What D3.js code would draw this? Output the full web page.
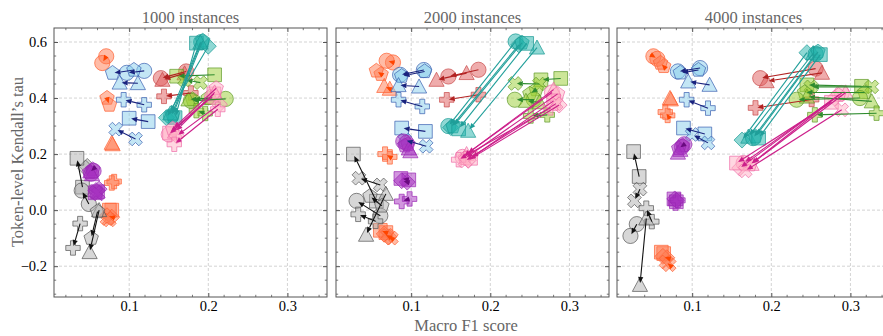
<!DOCTYPE html>
<html>
<head>
<meta charset="utf-8">
<script src="https://cdn.jsdelivr.net/npm/d3@7"></script>
<style>
  body { margin: 0; background: #fff; }
  svg { display: block; }
  text { font-family: "Liberation Serif", "DejaVu Serif", serif; }
</style>
</head>
<body>
<svg id="chart" width="883" height="336"></svg>
<script>
// panel titles and axis ticks
const panelTitles = ["1000 instances", "2000 instances", "4000 instances"];
const xTicks = [0.1, 0.2, 0.3];
const yTicks = [-0.2, 0.0, 0.2, 0.4, 0.6];

// each row: [group, marker, f1 before, tau before, f1 after, tau after]
const moves1000 = [
  ["orange", "o", 0.071, 0.549, 0.066, 0.525],
  ["orange", "p", 0.072, 0.400, 0.075, 0.375],
  ["orange", "^", 0.079, 0.235, 0.078, 0.240],
  ["orange", "P", 0.081, 0.102, 0.078, 0.097],
  ["orange", "s", 0.078, 0.000, 0.075, 0.000],
  ["orange", "D", 0.078, -0.025, 0.072, -0.020],
  ["orange", "X", 0.075, -0.035, 0.072, -0.030],
  ["blue", "o", 0.119, 0.497, 0.097, 0.490],
  ["blue", "p", 0.106, 0.500, 0.079, 0.489],
  ["blue", "^", 0.111, 0.453, 0.088, 0.455],
  ["blue", "P", 0.119, 0.376, 0.093, 0.394],
  ["blue", "s", 0.124, 0.316, 0.100, 0.328],
  ["blue", "X", 0.108, 0.254, 0.083, 0.289],
  ["red", "o", 0.172, 0.495, 0.140, 0.471],
  ["red", "^", 0.170, 0.488, 0.142, 0.465],
  ["red", "P", 0.178, 0.418, 0.144, 0.406],
  ["green", "s", 0.208, 0.483, 0.160, 0.478],
  ["green", "X", 0.190, 0.455, 0.170, 0.465],
  ["green", "p", 0.200, 0.400, 0.180, 0.395],
  ["green", "o", 0.222, 0.397, 0.178, 0.390],
  ["green", "^", 0.205, 0.400, 0.175, 0.395],
  ["green", "P", 0.196, 0.345, 0.185, 0.355],
  ["teal", "o", 0.191, 0.600, 0.153, 0.335],
  ["teal", "s", 0.185, 0.596, 0.158, 0.330],
  ["teal", "D", 0.200, 0.585, 0.147, 0.330],
  ["teal", "p", 0.193, 0.604, 0.155, 0.340],
  ["teal", "^", 0.190, 0.598, 0.152, 0.345],
  ["pink", "o", 0.205, 0.405, 0.150, 0.270],
  ["pink", "s", 0.207, 0.415, 0.151, 0.275],
  ["pink", "p", 0.210, 0.435, 0.155, 0.290],
  ["pink", "^", 0.208, 0.420, 0.158, 0.280],
  ["pink", "D", 0.214, 0.378, 0.160, 0.265],
  ["pink", "P", 0.212, 0.360, 0.157, 0.235],
  ["gray", "D", 0.047, 0.156, 0.045, 0.150],
  ["gray", "s", 0.041, 0.082, 0.034, 0.185],
  ["gray", "o", 0.049, 0.022, 0.040, 0.070],
  ["gray", "^", 0.062, 0.000, 0.050, -0.150],
  ["gray", "p", 0.060, -0.005, 0.052, -0.100],
  ["gray", "P", 0.038, -0.048, 0.029, -0.135],
  ["purple", "p", 0.054, 0.145, 0.050, 0.135],
  ["purple", "o", 0.055, 0.140, 0.052, 0.130],
  ["purple", "^", 0.053, 0.128, 0.051, 0.138],
  ["purple", "s", 0.060, 0.066, 0.057, 0.062],
  ["purple", "D", 0.062, 0.075, 0.058, 0.070],
  ["purple", "X", 0.061, 0.058, 0.058, 0.064]
];

const moves2000 = [
  ["orange", "o", 0.077, 0.527, 0.069, 0.533],
  ["orange", "p", 0.062, 0.485, 0.056, 0.497],
  ["orange", "^", 0.073, 0.433, 0.066, 0.443],
  ["orange", "P", 0.073, 0.190, 0.067, 0.200],
  ["orange", "s", 0.068, -0.080, 0.061, -0.072],
  ["orange", "D", 0.072, -0.095, 0.066, -0.085],
  ["orange", "X", 0.075, -0.100, 0.070, -0.090],
  ["blue", "o", 0.116, 0.500, 0.086, 0.483],
  ["blue", "p", 0.117, 0.495, 0.088, 0.478],
  ["blue", "^", 0.110, 0.441, 0.084, 0.446],
  ["blue", "P", 0.114, 0.370, 0.084, 0.394],
  ["blue", "s", 0.118, 0.281, 0.088, 0.293],
  ["blue", "X", 0.119, 0.228, 0.092, 0.250],
  ["red", "o", 0.185, 0.501, 0.147, 0.477],
  ["red", "^", 0.170, 0.489, 0.132, 0.465],
  ["red", "P", 0.185, 0.412, 0.145, 0.394],
  ["green", "s", 0.289, 0.470, 0.264, 0.465],
  ["green", "X", 0.262, 0.450, 0.231, 0.452],
  ["green", "p", 0.258, 0.430, 0.250, 0.415],
  ["green", "o", 0.255, 0.395, 0.231, 0.394],
  ["green", "^", 0.262, 0.385, 0.245, 0.390],
  ["green", "P", 0.272, 0.340, 0.251, 0.336],
  ["teal", "o", 0.232, 0.602, 0.147, 0.300],
  ["teal", "D", 0.236, 0.590, 0.150, 0.295],
  ["teal", "p", 0.240, 0.597, 0.153, 0.298],
  ["teal", "s", 0.246, 0.595, 0.160, 0.290],
  ["teal", "^", 0.259, 0.580, 0.172, 0.283],
  ["pink", "o", 0.278, 0.420, 0.165, 0.190],
  ["pink", "^", 0.280, 0.430, 0.170, 0.200],
  ["pink", "p", 0.285, 0.415, 0.168, 0.185],
  ["pink", "s", 0.280, 0.390, 0.175, 0.185],
  ["pink", "D", 0.287, 0.375, 0.172, 0.178],
  ["pink", "P", 0.276, 0.365, 0.160, 0.180],
  ["pink", "X", 0.283, 0.380, 0.168, 0.175],
  ["gray", "s", 0.056, 0.032, 0.027, 0.200],
  ["gray", "X", 0.061, 0.090, 0.034, 0.114],
  ["gray", "^", 0.068, 0.058, 0.043, -0.088],
  ["gray", "o", 0.061, -0.020, 0.031, 0.033],
  ["gray", "P", 0.055, -0.040, 0.033, -0.015],
  ["gray", "p", 0.063, 0.015, 0.048, 0.050],
  ["purple", "o", 0.094, 0.240, 0.090, 0.245],
  ["purple", "p", 0.096, 0.235, 0.092, 0.230],
  ["purple", "^", 0.099, 0.210, 0.097, 0.220],
  ["purple", "s", 0.097, 0.108, 0.087, 0.113],
  ["purple", "D", 0.095, 0.100, 0.088, 0.105],
  ["purple", "P", 0.098, 0.040, 0.088, 0.031]
];

const moves4000 = [
  ["orange", "o", 0.051, 0.549, 0.056, 0.540],
  ["orange", "p", 0.064, 0.513, 0.060, 0.525],
  ["orange", "^", 0.073, 0.395, 0.072, 0.400],
  ["orange", "P", 0.069, 0.338, 0.066, 0.350],
  ["orange", "s", 0.064, -0.155, 0.061, -0.150],
  ["orange", "D", 0.068, -0.170, 0.063, -0.165],
  ["orange", "X", 0.071, -0.195, 0.067, -0.185],
  ["blue", "o", 0.110, 0.507, 0.082, 0.495],
  ["blue", "p", 0.108, 0.500, 0.085, 0.490],
  ["blue", "^", 0.122, 0.447, 0.095, 0.459],
  ["blue", "P", 0.120, 0.364, 0.093, 0.394],
  ["blue", "s", 0.116, 0.272, 0.089, 0.293],
  ["blue", "X", 0.120, 0.240, 0.100, 0.270],
  ["red", "o", 0.256, 0.505, 0.186, 0.471],
  ["red", "^", 0.264, 0.490, 0.194, 0.460],
  ["red", "P", 0.251, 0.395, 0.180, 0.365],
  ["green", "s", 0.314, 0.442, 0.245, 0.447],
  ["green", "X", 0.327, 0.440, 0.250, 0.440],
  ["green", "p", 0.318, 0.420, 0.242, 0.420],
  ["green", "o", 0.312, 0.400, 0.232, 0.394],
  ["green", "^", 0.327, 0.388, 0.245, 0.405],
  ["green", "P", 0.333, 0.346, 0.255, 0.340],
  ["teal", "D", 0.245, 0.562, 0.163, 0.250],
  ["teal", "^", 0.253, 0.560, 0.171, 0.262],
  ["teal", "o", 0.256, 0.558, 0.177, 0.257],
  ["teal", "p", 0.259, 0.565, 0.180, 0.262],
  ["teal", "s", 0.262, 0.555, 0.184, 0.257],
  ["pink", "o", 0.289, 0.418, 0.165, 0.168],
  ["pink", "^", 0.294, 0.420, 0.175, 0.165],
  ["pink", "p", 0.285, 0.410, 0.173, 0.162],
  ["pink", "D", 0.280, 0.400, 0.160, 0.150],
  ["pink", "s", 0.276, 0.385, 0.156, 0.168],
  ["pink", "X", 0.289, 0.358, 0.167, 0.140],
  ["gray", "s", 0.033, 0.120, 0.026, 0.209],
  ["gray", "X", 0.034, 0.075, 0.027, 0.033],
  ["gray", "P", 0.049, -0.041, 0.042, 0.007],
  ["gray", "o", 0.030, -0.050, 0.022, -0.092],
  ["gray", "^", 0.042, -0.030, 0.034, -0.267],
  ["purple", "o", 0.090, 0.235, 0.087, 0.225],
  ["purple", "p", 0.088, 0.230, 0.083, 0.220],
  ["purple", "^", 0.082, 0.205, 0.085, 0.215],
  ["purple", "s", 0.077, 0.040, 0.080, 0.030],
  ["purple", "D", 0.080, 0.035, 0.078, 0.040],
  ["purple", "P", 0.079, 0.025, 0.082, 0.035]
];

const panelData = [moves1000, moves2000, moves4000];

// colours per group: marker fill, marker edge, arrow
const groupStyle = {
  orange: { fill: "#ff7a50", edge: "#ff6030", arrow: "#ff4500" },
  blue:   { fill: "#87ceeb", edge: "#3a5fb0", arrow: "#1a237e" },
  red:    { fill: "#e05a5a", edge: "#c84848", arrow: "#b22222" },
  teal:   { fill: "#20b2aa", edge: "#1a9a94", arrow: "#1f9e99" },
  green:  { fill: "#9acd32", edge: "#5f9a2a", arrow: "#2e8b2e" },
  pink:   { fill: "#ffb0c4", edge: "#f06ca8", arrow: "#cc1f8a" },
  gray:   { fill: "#b0b0b0", edge: "#555555", arrow: "#111111" },
  purple: { fill: "#a62fc0", edge: "#9a2ab4", arrow: "#6a0a80" }
};

const svg = d3.select("#chart");
const plotTop = 28, plotBottom = 297, panelW = 273;
const lefts = [54, 336, 617];

function shapePath(m, r) {
  const p = d3.path();
  if (m === "o") {
    p.arc(0, 0, r, 0, 2 * Math.PI);
  } else if (m === "s") {
    const h = r * 0.9;
    p.rect(-h, -h, 2 * h, 2 * h);
  } else if (m === "D") {
    const h = r * 1.05;
    p.moveTo(0, -h); p.lineTo(h, 0); p.lineTo(0, h); p.lineTo(-h, 0); p.closePath();
  } else if (m === "^") {
    p.moveTo(0, -r); p.lineTo(r, r * 0.85); p.lineTo(-r, r * 0.85); p.closePath();
  } else if (m === "p") {
    for (let i = 0; i < 5; i++) {
      const a = -Math.PI / 2 + i * 2 * Math.PI / 5;
      if (i === 0) p.moveTo(r * Math.cos(a), r * Math.sin(a));
      else p.lineTo(r * Math.cos(a), r * Math.sin(a));
    }
    p.closePath();
  } else {
    // plus, X is the same shape rotated
    const a = r * 0.95, b = r * 0.33;
    const pts = [[-b,-a],[b,-a],[b,-b],[a,-b],[a,b],[b,b],[b,a],[-b,a],[-b,b],[-a,b],[-a,-b],[-b,-b]];
    const rot = m === "X" ? Math.PI / 4 : 0;
    pts.forEach((q, i) => {
      const x = q[0] * Math.cos(rot) - q[1] * Math.sin(rot);
      const y = q[0] * Math.sin(rot) + q[1] * Math.cos(rot);
      if (i === 0) p.moveTo(x, y); else p.lineTo(x, y);
    });
    p.closePath();
  }
  return p.toString();
}

panelData.forEach((rows, pi) => {
  const left = lefts[pi];
  const x = d3.scaleLinear().domain([0.005, 0.35]).range([left, left + panelW]);
  const y = d3.scaleLinear().domain([-0.31, 0.65]).range([plotBottom, plotTop]);

  const clipId = "clip" + pi;
  svg.append("clipPath").attr("id", clipId)
    .append("rect").attr("x", left).attr("y", plotTop).attr("width", panelW).attr("height", plotBottom - plotTop);

  // grid
  const grid = svg.append("g");
  grid.selectAll(".gx").data(xTicks).enter().append("line")
    .attr("x1", d => x(d)).attr("x2", d => x(d)).attr("y1", plotTop).attr("y2", plotBottom)
    .attr("stroke", "#c8c8c8").attr("stroke-width", 0.8).attr("stroke-dasharray", "3,2");
  grid.selectAll(".gy").data(yTicks).enter().append("line")
    .attr("x1", left).attr("x2", left + panelW).attr("y1", d => y(d)).attr("y2", d => y(d))
    .attr("stroke", "#c8c8c8").attr("stroke-width", 0.8).attr("stroke-dasharray", "3,2");

  const plot = svg.append("g").attr("clip-path", "url(#" + clipId + ")");

  // markers: before and after
  const pts = [];
  rows.forEach(r => {
    pts.push({ g: r[0], m: r[1], f1: r[2], tau: r[3] });
    pts.push({ g: r[0], m: r[1], f1: r[4], tau: r[5] });
  });
  plot.selectAll("path.mk").data(pts).enter().append("path")
    .attr("class", "mk")
    .attr("d", d => shapePath(d.m, 7.6))
    .attr("transform", d => "translate(" + x(d.f1) + "," + y(d.tau) + ")")
    .attr("fill", d => groupStyle[d.g].fill)
    .attr("fill-opacity", 0.5)
    .attr("stroke", d => groupStyle[d.g].edge)
    .attr("stroke-opacity", 0.7)
    .attr("stroke-width", 1);

  // arrows from before to after
  rows.forEach(r => {
    const x0 = x(r[2]), y0 = y(r[3]), x1 = x(r[4]), y1 = y(r[5]);
    const dx = x1 - x0, dy = y1 - y0, len = Math.hypot(dx, dy);
    if (len < 4) return;
    const ux = dx / len, uy = dy / len;
    const tx = x1 - ux * 2, ty = y1 - uy * 2;
    const hl = 6, hw = 2.6;
    const bx = tx - ux * hl, by = ty - uy * hl;
    const col = groupStyle[r[0]].arrow;
    plot.append("line")
      .attr("x1", x0).attr("y1", y0).attr("x2", bx).attr("y2", by)
      .attr("stroke", col).attr("stroke-width", 1.1);
    plot.append("path")
      .attr("d", "M" + tx + "," + ty + "L" + (bx - uy * hw) + "," + (by + ux * hw) +
                 "L" + (bx + uy * hw) + "," + (by - ux * hw) + "Z")
      .attr("fill", col);
  });

  // frame
  svg.append("rect").attr("x", left).attr("y", plotTop).attr("width", panelW).attr("height", plotBottom - plotTop)
    .attr("fill", "none").attr("stroke", "#555").attr("stroke-width", 1);

  // ticks (inward, on all sides)
  const axB = d3.axisBottom(x).tickValues(xTicks).tickSize(-4).tickPadding(4).tickFormat(d3.format(".1f"));
  const gB = svg.append("g").attr("transform", "translate(0," + plotBottom + ")").call(axB);
  gB.select(".domain").remove();
  gB.selectAll("text").attr("font-size", 14.5).attr("fill", "#000")
    .style("font-family", "'Liberation Serif', serif");
  gB.selectAll("line").attr("stroke", "#555");

  const axT = d3.axisTop(x).tickValues(xTicks).tickSize(-4).tickFormat("");
  const gT = svg.append("g").attr("transform", "translate(0," + plotTop + ")").call(axT);
  gT.select(".domain").remove();
  gT.selectAll("line").attr("stroke", "#555");

  const minorX = d3.range(0.02, 0.35, 0.02).filter(v => !xTicks.some(t => Math.abs(t - v) < 1e-6));
  const minorY = d3.range(-0.3, 0.65, 0.05).filter(v => !yTicks.some(t => Math.abs(t - v) < 1e-6));
  const mt = svg.append("g").attr("stroke", "#555").attr("stroke-width", 0.8);
  minorX.forEach(v => {
    mt.append("line").attr("x1", x(v)).attr("x2", x(v)).attr("y1", plotBottom).attr("y2", plotBottom - 2.2);
    mt.append("line").attr("x1", x(v)).attr("x2", x(v)).attr("y1", plotTop).attr("y2", plotTop + 2.2);
  });
  minorY.forEach(v => {
    mt.append("line").attr("x1", left).attr("x2", left + 2.2).attr("y1", y(v)).attr("y2", y(v));
    mt.append("line").attr("x1", left + panelW).attr("x2", left + panelW - 2.2).attr("y1", y(v)).attr("y2", y(v));
  });

  const axL = d3.axisLeft(y).tickValues(yTicks).tickSize(-4).tickPadding(7)
    .tickFormat(pi === 0 ? d3.format(".1f") : "");
  const gL = svg.append("g").attr("transform", "translate(" + left + ",0)").call(axL);
  gL.select(".domain").remove();
  gL.selectAll("text").attr("font-size", 14.5).attr("fill", "#000")
    .style("font-family", "'Liberation Serif', serif");
  gL.selectAll("line").attr("stroke", "#555");

  const axR = d3.axisRight(y).tickValues(yTicks).tickSize(-4).tickFormat("");
  const gR = svg.append("g").attr("transform", "translate(" + (left + panelW) + ",0)").call(axR);
  gR.select(".domain").remove();
  gR.selectAll("line").attr("stroke", "#555");

  // title
  svg.append("text")
    .attr("x", left + panelW / 2).attr("y", 23)
    .attr("text-anchor", "middle").attr("font-size", 16.5).attr("fill", "#666")
    .text(panelTitles[pi]);
});

svg.append("text")
  .attr("transform", "translate(23,162) rotate(-90)")
  .attr("text-anchor", "middle").attr("font-size", 16.5).attr("fill", "#666")
  .text("Token-level Kendall\u2019s tau");

svg.append("text")
  .attr("x", 466).attr("y", 331)
  .attr("text-anchor", "middle").attr("font-size", 16.5).attr("fill", "#666")
  .text("Macro F1 score");
</script>
</body>
</html>
